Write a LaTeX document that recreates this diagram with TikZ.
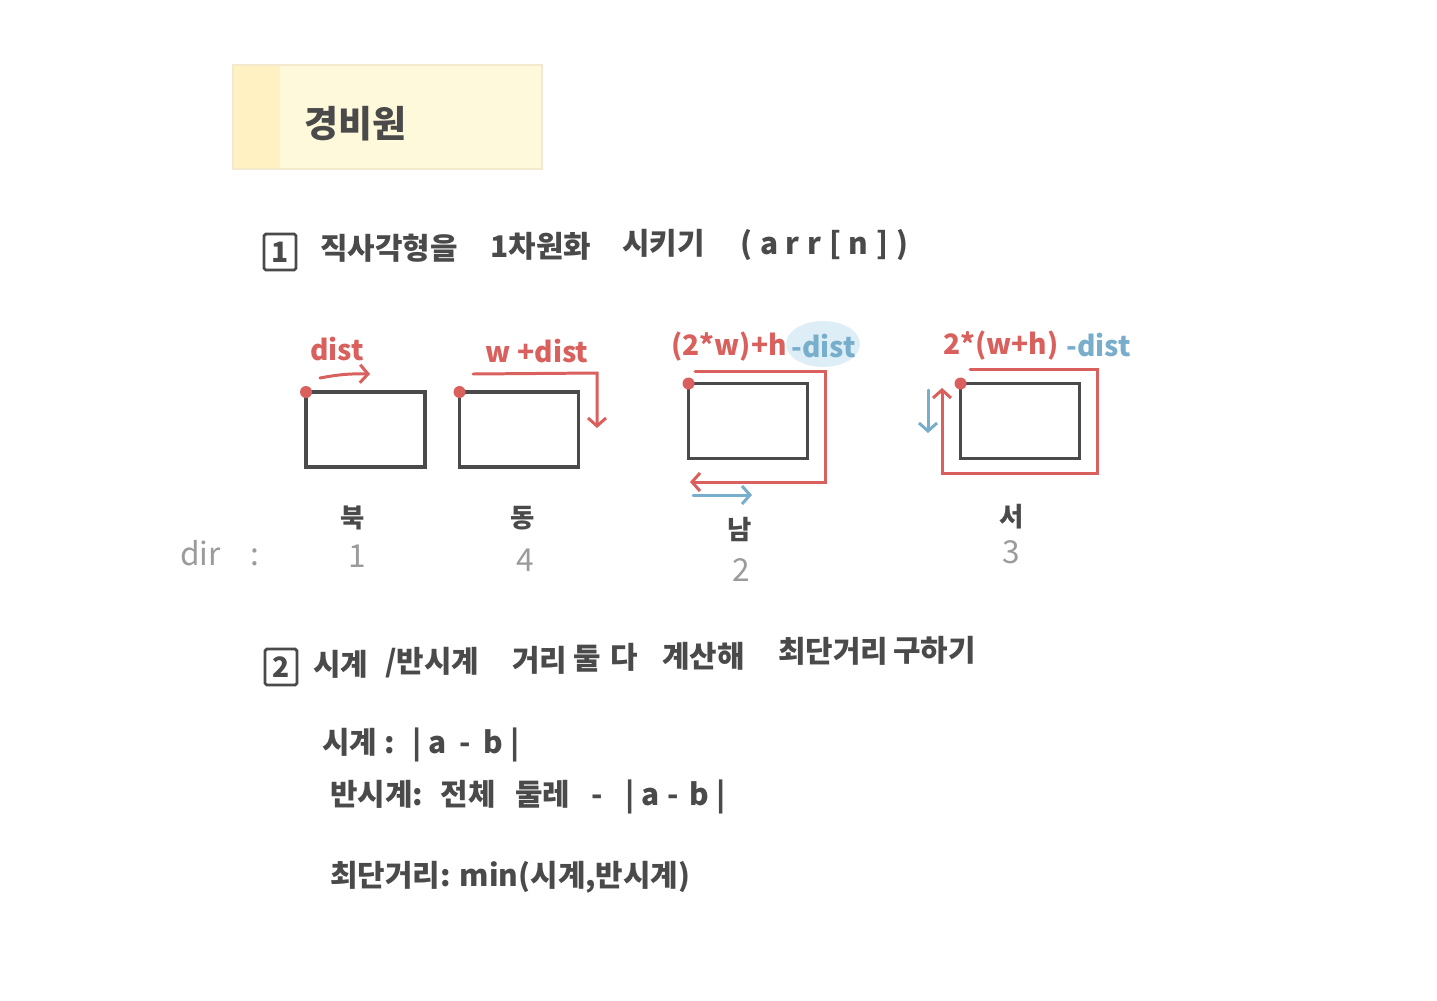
\documentclass[tikz,border=0pt]{standalone}
\usepackage{fontspec}
\setmainfont{Noto Sans CJK KR}
\usetikzlibrary{arrows.meta}
\definecolor{ink}{HTML}{4A4A4A}
\definecolor{pen}{HTML}{D9605C}
\definecolor{sky}{HTML}{78AECB}
\definecolor{haze}{HTML}{DDEEF7}
\definecolor{lead}{HTML}{9B9B9B}
\definecolor{memo}{HTML}{FFF9DC}
\definecolor{memostrip}{HTML}{FFF1C2}
\definecolor{memoedge}{HTML}{F2E9CF}
\tikzset{
  rect/.style={draw=ink, line width=1.8pt, minimum width=23.8mm, minimum height=15mm, inner sep=0, outer sep=0},
  redline/.style={draw=pen, line width=1.7pt, line cap=round},
  blueline/.style={draw=sky, line width=1.7pt, line cap=round},
  tip/.style={-{Straight Barb[length=1.6mm,width=3.6mm]}},
  numbox/.style={draw=ink, line width=1.6pt, rounded corners=1pt, minimum width=6.4mm, minimum height=7.2mm, inner sep=0, text=ink, font=\fontsize{16pt}{18pt}\selectfont\bfseries},
  title/.style={text=ink, inner sep=0, font=\fontsize{17pt}{19pt}\selectfont\bfseries},
  note/.style={text=ink, inner sep=0, font=\fontsize{17pt}{19pt}\selectfont\bfseries},
  redlabel/.style={text=pen, inner sep=0, font=\fontsize{16pt}{18pt}\selectfont\bfseries},
  bluelabel/.style={text=sky, inner sep=0, font=\fontsize{16pt}{18pt}\selectfont\bfseries},
  dirname/.style={text=ink, inner sep=0, font=\fontsize{15pt}{17pt}\selectfont\bfseries},
  dirnum/.style={text=lead, inner sep=0, font=\fontsize{18pt}{20pt}\selectfont},
}
\begin{document}
\begin{tikzpicture}[x=0.2mm,y=-0.2mm]
    \useasboundingbox[fill=white] (0,0) rectangle (1437,1000);
    % memo header
    \fill[memo] (233,65) rectangle (542,169);
    \fill[memostrip] (233,65) rectangle (280,169);
    \draw[memoedge, line width=0.6pt] (233,65) rectangle (542,169);
    \node[title, font=\fontsize{21pt}{23pt}\selectfont\bfseries, anchor=west] (guard) at (304,124) {경비원};

    % step 1
    \node[numbox] (one) at (280,252) {1};
    \node[title, anchor=west] (t1a) at (320,248) {직사각형을};
    \node[title, anchor=west] (t1b) at (490,246) {1차원화};
    \node[title, anchor=west] (t1c) at (622,243) {시키기};
    \node[title, anchor=west, font=\fontsize{17pt}{19pt}\selectfont\bfseries\addfontfeature{LetterSpace=26}] (t1d) at (740,245) {(arr[n])};

    % rectangles
    \node[rect] (north) at (365.5,429.5) {};
    \node[rect] (east) at (519,429.5) {};
    \node[rect] (south) at (748,421) {};
    \node[rect] (west) at (1020,421) {};
    \foreach \r in {north,east,south,west}
        \fill[pen] (\r.north west) circle[radius=1.2mm];

    % north
    \node[redlabel] (nlab) at (337,349) {dist};
    \coordinate (n1) at (320,378);
    \coordinate (n2) at (370,374);
    \draw[redline,tip] (n1) to[bend left=6] (n2);

    % east
    \node[redlabel] (elab) at (537,351) {w +dist};
    \coordinate (e1) at (473,374);
    \coordinate (e2) at (597,428);
    \draw[redline,tip] (e1) -- (597,373) -- (e2);

    % south
    \fill[haze] (823,344) ellipse[x radius=7.4mm, y radius=4.6mm];
    \node[redlabel, anchor=east] (slab) at (787,347) {(2*w)+h};
    \node[bluelabel, anchor=west] (sdist) at (791,346) {-dist};
    \coordinate (s1) at (695,371);
    \coordinate (s2) at (690,482);
    \draw[redline,tip] (s1) -| (825,482) -- (s2);
    \coordinate (s3) at (693,495);
    \coordinate (s4) at (752,495);
    \draw[blueline,tip] (s3) -- (s4);

    % west
    \node[redlabel, anchor=east] (wlab) at (1059,346) {2*(w+h)};
    \node[bluelabel, anchor=west] (wdist) at (1066,345) {-dist};
    \coordinate (w1) at (970,369);
    \coordinate (w2) at (942,388);
    \draw[redline,tip] (w1) -| (1097,473) -| (w2);
    \coordinate (w3) at (928,390);
    \coordinate (w4) at (928,433);
    \draw[blueline,tip] (w3) -- (w4);

    % directions
    \node[dirname] (bk) at (353,518) {북};
    \node[dirname] (dg) at (523,518) {동};
    \node[dirname] (nm) at (740,530) {남};
    \node[dirname] (sh) at (1012,517) {서};
    \node[dirnum, anchor=west] (dir) at (180,553) {dir\hspace{6mm}:};
    \node[dirnum] (d1) at (357,556) {1};
    \node[dirnum] (d4) at (525,560) {4};
    \node[dirnum] (d2) at (741,570) {2};
    \node[dirnum] (d3) at (1011,552) {3};

    % step 2
    \node[numbox] (two) at (281,667) {2};
    \node[title, anchor=west] (t2a) at (313,664) {시계};
    \node[title, anchor=west] (t2b) at (385,663) {/반시계};
    \node[title, anchor=west] (t2c) at (512,660) {거리};
    \node[title, anchor=west] (t2d) at (573,659) {둘};
    \node[title, anchor=west] (t2e) at (610,657) {다};
    \node[title, anchor=west] (t2f) at (662,656) {계산해};
    \node[title, anchor=west] (t2g) at (778,651) {최단거리};
    \node[title, anchor=west] (t2h) at (893,650) {구하기};

    % formulas
    \node[note, anchor=west] (cw) at (322,745) {시계 :\hspace{3.5mm}|\hspace{1.5mm}a\hspace{2.5mm}-\hspace{2.5mm}b\hspace{1.5mm}|};
    \node[note, anchor=west] (ccw) at (330,797) {반시계:\hspace{3.5mm}전체\hspace{2.5mm} 둘레\hspace{3mm} -\hspace{3mm} |\hspace{1.5mm}a\hspace{1.5mm}-\hspace{2mm}b\hspace{1.5mm}|};
    \node[note, anchor=west] (best) at (330,877) {최단거리: min(시계,반시계)};
\end{tikzpicture}
\end{document}
